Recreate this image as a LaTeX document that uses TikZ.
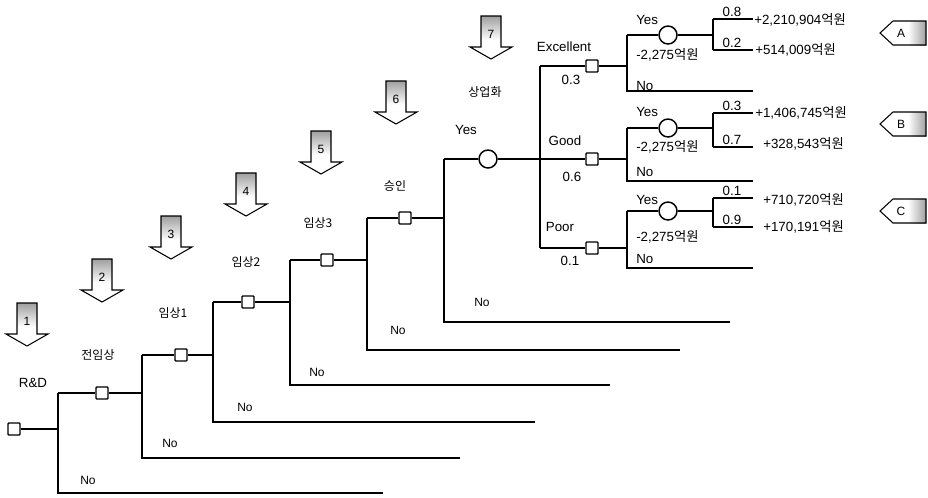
\documentclass[tikz,border=0pt]{standalone}
\usepackage{fontspec}
\setmainfont{Liberation Sans}
\newfontfamily\kr{Noto Sans CJK KR}
\begin{document}
\begin{tikzpicture}[x=0.75pt,y=-0.75pt,
  thickln/.style={line width=1.5pt},
  midln/.style={line width=1.1pt},
  thinln/.style={line width=0.8pt},
  decbox/.style={draw,line width=1.1pt,fill=white,minimum size=9pt,inner sep=0pt,rounded corners=0.6pt},
  chance/.style={draw,circle,line width=1.1pt,fill=white,minimum size=13.5pt,inner sep=0pt},
  lbl/.style={font=\fontsize{10}{12}\selectfont,inner sep=0pt},
  smlbl/.style={font=\fontsize{9}{10}\selectfont,inner sep=0pt},
  krl/.style={font=\fontsize{9}{10}\kr,inner sep=0pt},
  downarrow/.pic={
    \shade[top color=gray!75,bottom color=white] (-10,0) rectangle (10,24);
    \draw[line width=0.8pt] (-10,0) -- (10,0) -- (10,31) -- (21,31) -- (0,43) -- (-21,31) -- (-10,31) -- cycle;
    \node[smlbl] at (0,18) {\tikzpictext};
  },
  tagmark/.pic={
    \shade[left color=white,right color=gray!75] (28,-12) rectangle (46,12);
    \draw[line width=0.8pt] (0,0) -- (13,-12) -- (46,-12) -- (46,12) -- (13,12) -- cycle;
    \node[smlbl] at (21,0) {\tikzpictext};
  }]
\useasboundingbox (0,0) rectangle (928,497);

% ---------- arrows ----------
\pic[pic text=1] (a1) at (27,303) {downarrow};
\pic[pic text=2] (a2) at (102,259) {downarrow};
\pic[pic text=3] (a3) at (171,216) {downarrow};
\pic[pic text=4] (a4) at (246,173) {downarrow};
\pic[pic text=5] (a5) at (321,131) {downarrow};
\pic[pic text=6] (a6) at (396,81) {downarrow};
\pic[pic text=7] (a7) at (491,16) {downarrow};

% ---------- stage labels ----------
\node[lbl] (lrd) at (33,383) {R\&D};
\node[krl] (l1) at (98,355) {전임상};
\node[krl] (l2) at (173,313) {임상1};
\node[krl] (l3) at (246,262) {임상2};
\node[krl] (l4) at (318,223) {임상3};
\node[krl] (l5) at (395,186) {승인};
\node[krl] (l6) at (485,92) {상업화};
\node[lbl] (lyes) at (466,130) {Yes};

% ---------- coordinates ----------
\coordinate (v0t) at (58,393); \coordinate (v0m) at (58,429);
\coordinate (v0b) at (58,493); \coordinate (e0) at (383,493);
\coordinate (v1i) at (142,393); \coordinate (v1t) at (142,355);
\coordinate (v1b) at (142,458); \coordinate (e1) at (460,458);
\coordinate (v2i) at (213,355); \coordinate (v2t) at (213,302);
\coordinate (v2b) at (213,422); \coordinate (e2) at (535,422);
\coordinate (v3i) at (290,302); \coordinate (v3t) at (290,260);
\coordinate (v3b) at (290,385); \coordinate (e3) at (610,385);
\coordinate (v4i) at (367,260); \coordinate (v4t) at (367,218);
\coordinate (v4b) at (367,350); \coordinate (e4) at (680,350);
\coordinate (v5i) at (444,218); \coordinate (v5t) at (444,159);
\coordinate (v5b) at (444,322); \coordinate (e5) at (730,322);
\coordinate (v6i) at (540,159); \coordinate (v6t) at (540,66);
\coordinate (v6b) at (540,248);

% group A (Excellent)
\coordinate (ga) at (627,66); \coordinate (gaY) at (627,35);
\coordinate (gaN) at (627,91); \coordinate (gaNe) at (753,91);
\coordinate (oa) at (713,35); \coordinate (oaT) at (713,19); \coordinate (oaB) at (713,50);
\coordinate (oaTe) at (753,19); \coordinate (oaBe) at (753,50);
% group B (Good)
\coordinate (gb) at (627,159); \coordinate (gbY) at (627,128);
\coordinate (gbN) at (627,181); \coordinate (gbNe) at (753,181);
\coordinate (ob) at (713,128); \coordinate (obT) at (713,113); \coordinate (obB) at (713,147);
\coordinate (obTe) at (753,113); \coordinate (obBe) at (753,147);
% group C (Poor)
\coordinate (gc) at (627,248); \coordinate (gcY) at (627,211);
\coordinate (gcN) at (627,268); \coordinate (gcNe) at (753,268);
\coordinate (oc) at (713,211); \coordinate (ocT) at (713,198); \coordinate (ocB) at (713,227);
\coordinate (ocTe) at (753,198); \coordinate (ocBe) at (753,227);

% ---------- nodes ----------
\node[decbox] (d0) at (14,429) {};
\node[decbox] (d1) at (102,393) {};
\node[decbox] (d2) at (181,355) {};
\node[decbox] (d3) at (248,302) {};
\node[decbox] (d4) at (327,260) {};
\node[decbox] (d5) at (405,218) {};
\node[chance] (c6) at (488,159) {};
\node[decbox] (d7a) at (592,66) {};
\node[decbox] (d7b) at (592,159) {};
\node[decbox] (d7c) at (592,248) {};
\node[chance] (ca) at (668,35) {};
\node[chance] (cb) at (668,128) {};
\node[chance] (cc) at (668,211) {};

% ---------- connectors ----------
\draw[thickln] (d0) -- (v0m);
\draw[thickln] (v0t) -- (v0b) -- (e0);
\draw[thickln] (v0t) -- (d1) -- (v1i);
\draw[thickln] (v1t) -- (v1b) -- (e1);
\draw[thickln] (v1t) -- (d2) -- (v2i);
\draw[thickln] (v2t) -- (v2b) -- (e2);
\draw[thickln] (v2t) -- (d3) -- (v3i);
\draw[thickln] (v3t) -- (v3b) -- (e3);
\draw[thickln] (v3t) -- (d4) -- (v4i);
\draw[thickln] (v4t) -- (v4b) -- (e4);
\draw[thickln] (v4t) -- (d5) -- (v5i);
\draw[thickln] (v5t) -- (v5b) -- (e5);
\draw[thickln] (v5t) -- (c6) -- (v6i);
\draw[thinln] (v6t) -- (v6b);
\draw[midln] (v6t) -- (d7a) -- (ga);
\draw[midln] (v6i) -- (d7b) -- (gb);
\draw[midln] (v6b) -- (d7c) -- (gc);

\draw[thickln] (gaY) -- (gaN) -- (gaNe);
\draw[thickln] (gaY) -- (ca) -- (oa);
\draw[midln] (oaT) -- (oaB);
\draw[thinln] (oaT) -- (oaTe);
\draw[thinln] (oaB) -- (oaBe);

\draw[thickln] (gbY) -- (gbN) -- (gbNe);
\draw[thickln] (gbY) -- (cb) -- (ob);
\draw[midln] (obT) -- (obB);
\draw[thinln] (obT) -- (obTe);
\draw[thinln] (obB) -- (obBe);

\draw[thickln] (gcY) -- (gcN) -- (gcNe);
\draw[thickln] (gcY) -- (cc) -- (oc);
\draw[midln] (ocT) -- (ocB);
\draw[thinln] (ocT) -- (ocTe);
\draw[thinln] (ocB) -- (ocBe);

% ---------- No labels ----------
\node[smlbl] (n0) at (88,480) {No};
\node[smlbl] (n1) at (170,443) {No};
\node[smlbl] (n2) at (245,407) {No};
\node[smlbl] (n3) at (317,372) {No};
\node[smlbl] (n4) at (398,330) {No};
\node[smlbl] (n5) at (482,302) {No};

% ---------- stage 6 labels ----------
\node[lbl] (lex) at (564,47) {Excellent};
\node[lbl] (p03) at (571,80) {0.3};
\node[lbl] (lgo) at (565,141) {Good};
\node[lbl] (p06) at (572,177) {0.6};
\node[lbl] (lpo) at (560,227) {Poor};
\node[lbl] (p01) at (570,261) {0.1};

% ---------- group labels ----------
\node[lbl,anchor=west] (yA) at (636,20) {Yes};
\node[lbl,anchor=west] (cA) at (636,55) {-2,275{\kr 억원}};
\node[lbl,anchor=west] (nA) at (636,86) {No};
\node[lbl,anchor=west] (yB) at (636,112) {Yes};
\node[lbl,anchor=west] (cB) at (636,147) {-2,275{\kr 억원}};
\node[lbl,anchor=west] (nB) at (636,172) {No};
\node[lbl,anchor=west] (yC) at (636,200) {Yes};
\node[lbl,anchor=west] (cC) at (636,237) {-2,275{\kr 억원}};
\node[lbl,anchor=west] (nC) at (636,259) {No};

% ---------- outcome labels ----------
\node[lbl] (q08) at (732,12) {0.8};
\node[lbl] (q02) at (732,43) {0.2};
\node[lbl] (q03) at (732,106) {0.3};
\node[lbl] (q07) at (732,140) {0.7};
\node[lbl] (q01) at (732,191) {0.1};
\node[lbl] (q09) at (732,220) {0.9};
\node[lbl,anchor=west] (vA1) at (754,20) {+2,210,904{\kr 억원}};
\node[lbl,anchor=west] (vA2) at (755,50) {+514,009{\kr 억원}};
\node[lbl,anchor=west] (vB1) at (755,113) {+1,406,745{\kr 억원}};
\node[lbl,anchor=west] (vB2) at (763,144) {+328,543{\kr 억원}};
\node[lbl,anchor=west] (vC1) at (763,200) {+710,720{\kr 억원}};
\node[lbl,anchor=west] (vC2) at (763,227) {+170,191{\kr 억원}};

% ---------- tags ----------
\pic[pic text=A] (tA) at (880,33) {tagmark};
\pic[pic text=B] (tB) at (880,124) {tagmark};
\pic[pic text=C] (tC) at (880,211) {tagmark};
\end{tikzpicture}
\end{document}
